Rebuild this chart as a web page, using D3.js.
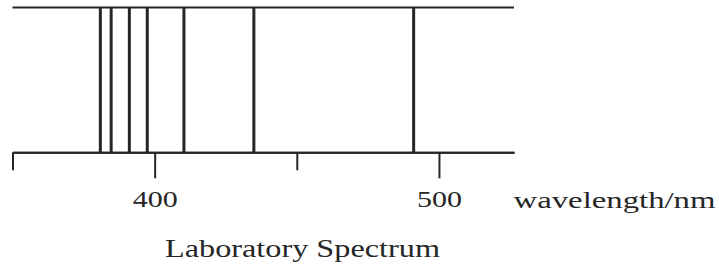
<!DOCTYPE html>
<html>
<head>
<meta charset="utf-8">
<script src="https://cdn.jsdelivr.net/npm/d3@7"></script>
<style>
  body { margin: 0; background: #fff; }
  svg text { font-family: "Liberation Serif", "Times New Roman", Tinos, "DejaVu Serif", serif; }
</style>
</head>
<body>
<div id="plot"></div>
<script>
// Emission lines (nm)
var lines = [380.9, 384.7, 391.1, 397.4, 410.3, 434.9, 491.1];
var majorTicks = [400, 500];
var minorTicks = [350, 450];
var axisLabel = "wavelength/nm";
var title = "Laboratory Spectrum";

var width = 719, height = 265;
var ink = "#262626";
var serif = "'Liberation Serif', 'Times New Roman', Tinos, 'DejaVu Serif', serif";

var svg = d3.select("#plot")
    .append("svg")
        .attr("width", width)
        .attr("height", height);

var x = d3.scaleLinear()
    .domain([350, 526.4])
    .range([12.5, 514]);

var yTop = 7.5, yBottom = 152.3;

// top edge of the strip
svg.append("line")
    .attr("x1", x.range()[0]).attr("x2", x.range()[1])
    .attr("y1", yTop).attr("y2", yTop)
    .attr("stroke", ink)
    .attr("stroke-width", 2);

// spectral lines
svg.append("g")
    .selectAll("line")
    .data(lines)
    .enter().append("line")
        .attr("x1", function(d) { return x(d); })
        .attr("x2", function(d) { return x(d); })
        .attr("y1", yTop)
        .attr("y2", yBottom)
        .attr("stroke", ink)
        .attr("stroke-width", 3);

// minor ticks (no labels)
svg.append("g")
    .attr("transform", "translate(0," + yBottom + ")")
    .call(d3.axisBottom(x).tickValues(minorTicks).tickSize(18).tickSizeOuter(0).tickFormat(""));

// major ticks with labels
var major = svg.append("g")
    .attr("transform", "translate(0," + yBottom + ")")
    .call(d3.axisBottom(x).tickValues(majorTicks).tickSize(26).tickSizeOuter(0).tickPadding(0));

svg.selectAll(".domain")
    .attr("stroke", ink)
    .attr("stroke-width", 2);
svg.selectAll(".tick line")
    .attr("stroke", ink)
    .attr("stroke-width", 2);
svg.selectAll("g").attr("font-family", serif);
major.selectAll(".tick text")
    .attr("y", 207.5 - yBottom)
    .attr("dy", null)
    .attr("font-size", 24)
    .attr("font-family", serif)
    .attr("fill", ink)
    .attr("textLength", 45)
    .attr("lengthAdjust", "spacingAndGlyphs");

svg.append("text")
    .attr("x", 513.5)
    .attr("y", 208)
    .attr("font-family", serif)
    .attr("font-size", 24)
    .attr("fill", ink)
    .attr("textLength", 202)
    .attr("lengthAdjust", "spacingAndGlyphs")
    .text(axisLabel);

svg.append("text")
    .attr("x", 165)
    .attr("y", 256.5)
    .attr("font-family", serif)
    .attr("font-size", 25)
    .attr("fill", ink)
    .attr("textLength", 275)
    .attr("lengthAdjust", "spacingAndGlyphs")
    .text(title);
</script>
</body>
</html>
